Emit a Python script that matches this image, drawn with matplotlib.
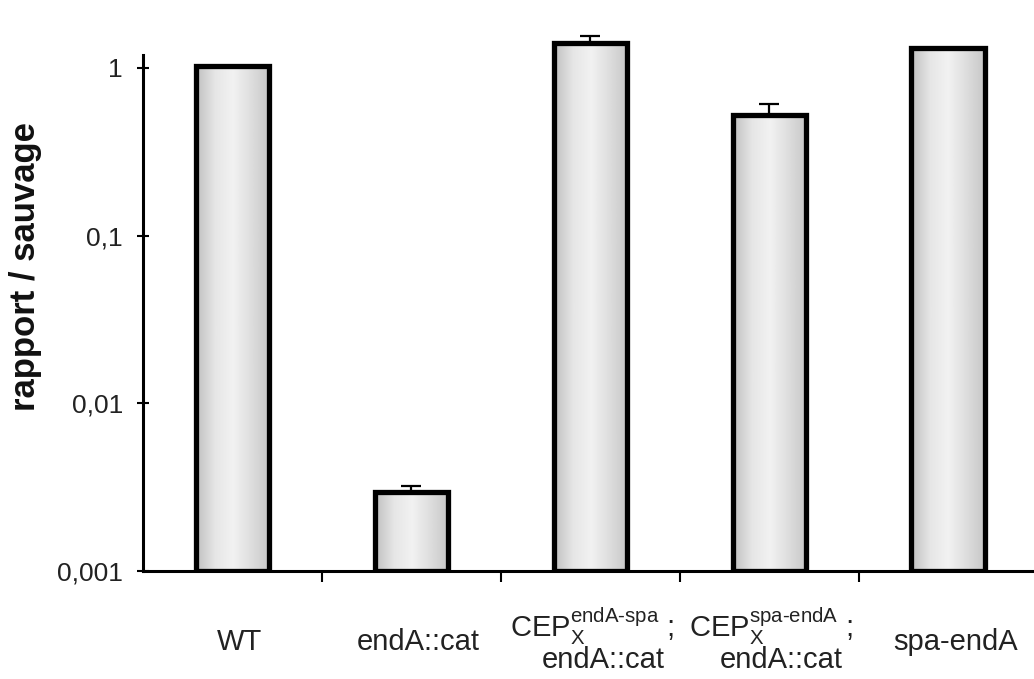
import numpy as np
import matplotlib
matplotlib.use("Agg")
import matplotlib.pyplot as plt
from matplotlib.colors import LinearSegmentedColormap

plt.rcParams['font.family'] = ['Liberation Sans', 'DejaVu Sans']
plt.rcParams['mathtext.fontset'] = 'custom'
plt.rcParams['mathtext.rm'] = 'Liberation Sans'
plt.rcParams['mathtext.it'] = 'Liberation Sans'

# values
line1 = ['WT', 'endA::cat',
         r'CEP$_\mathrm{X}^\mathrm{endA\text{-}spa}$ ;',
         r'CEP$_\mathrm{X}^\mathrm{spa\text{-}endA}$ ;',
         'spa-endA']
line2 = ['', '', 'endA::cat', 'endA::cat', '']
values = [1.02, 0.00296, 1.41, 0.525, 1.32]
err_up = [0.0, 0.00024, 0.14, 0.085, 0.0]

fig = plt.figure(figsize=(10.34, 6.79), dpi=100)
ax = fig.add_axes([0.1383, 0.159, 0.8617, 0.804])

base = 0.001
x = np.arange(len(values))
bars = ax.bar(x, np.array(values) - base, width=0.41, bottom=base, facecolor='none',
              edgecolor='black', linewidth=3.8, zorder=3)

# light grey gradient fill inside each bar
cmap = LinearSegmentedColormap.from_list('g', ['#c2c2c2', '#e6e6e6', '#f2f2f2', '#dedede', '#c8c8c8'])
grad = np.linspace(0, 1, 64).reshape(1, -1)
for b, v in zip(bars, values):
    x0 = b.get_x()
    im = ax.imshow(grad, cmap=cmap, aspect='auto', extent=(x0, x0 + b.get_width(), base, v),
                   zorder=2, interpolation='bicubic')
    im.set_clip_path(b)

ax.errorbar(x, values, yerr=[np.zeros(len(values)), err_up], fmt='none',
            ecolor='black', elinewidth=1.6, capsize=7, capthick=1.6, zorder=4)

ax.set_yscale('log')
ax.set_ylim(base, 1.8)
ax.set_xlim(-0.5, 4.48)

ax.spines['top'].set_visible(False)
ax.spines['right'].set_visible(False)
ax.spines['left'].set_linewidth(2.2)
ax.spines['bottom'].set_linewidth(2.2)
ax.spines['left'].set_bounds(base, 1.2)

ax.set_yticks([0.001, 0.01, 0.1, 1])
ax.set_yticklabels(['0,001', '0,01', '0,1', '1'], fontsize=19, color='#222222')
ax.minorticks_off()
ax.tick_params(axis='y', direction='inout', length=9, width=1.5, pad=10)

ax.set_xticks(x[:-1] + 0.5)
ax.set_xticklabels([])
ax.tick_params(axis='x', length=8, width=1.5)

tr = ax.get_xaxis_transform()
for xi, a, b in zip(x, line1, line2):
    if b:
        ax.text(xi + 0.01, -0.121, a, transform=tr, ha='center', va='baseline',
                fontsize=21, color='#222222')
        ax.text(xi + 0.07, -0.178, b, transform=tr, ha='center', va='baseline',
                fontsize=21, color='#222222')
    else:
        ax.text(xi + 0.04, -0.145, a, transform=tr, ha='center', va='baseline',
                fontsize=21, color='#222222')

fig.text(26 / 1034, 1 - 267 / 679, 'rapport / sauvage', rotation=90, ha='center', va='center',
         fontsize=25, fontweight='bold', color='#111111')

fig.savefig('out.png', dpi=100)
